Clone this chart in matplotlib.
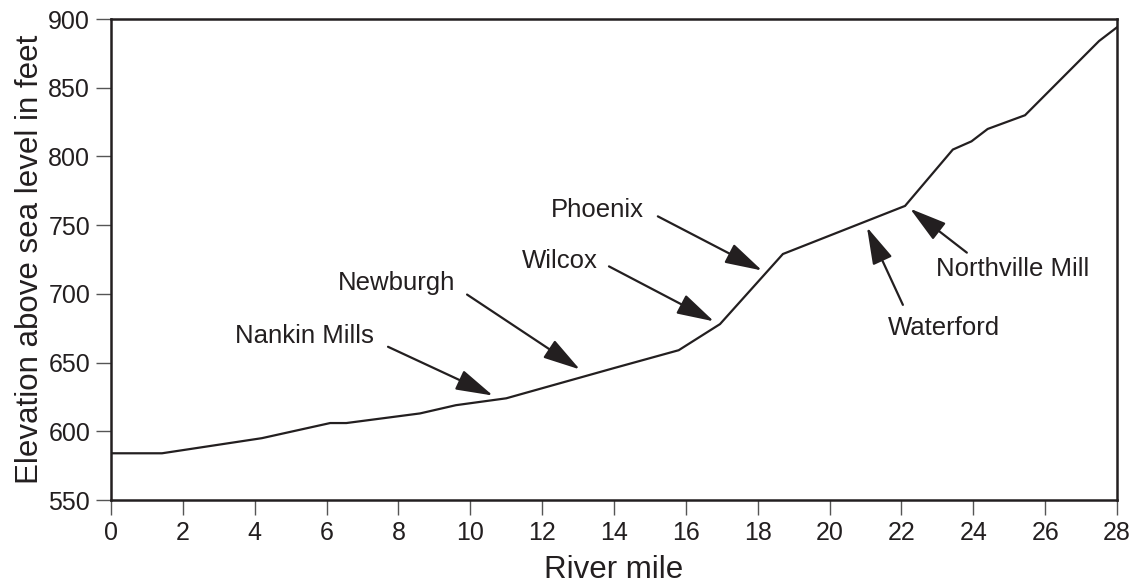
import matplotlib.pyplot as plt

plt.rcParams['font.family'] = ['Liberation Sans', 'DejaVu Sans']
ink = '#231f20'

# River profile: mile vs elevation (ft)
river_mile = [0, 1.42, 4.2, 6.1, 6.55, 8.6, 9.6, 11.0, 14.0, 15.8, 16.95,
              18.7, 22.1, 23.43, 23.95, 24.4, 25.44, 27.5, 28.0]
elevation = [584, 584, 595, 606, 606, 613, 619, 624, 646, 659, 678,
             729, 764, 805, 811, 820, 830, 884, 894]

# Dam labels: name, text position, arrow tail, arrow head
labels = ['Nankin Mills', 'Newburgh', 'Wilcox', 'Phoenix', 'Waterford', 'Northville Mill']
text_x = [5.39, 7.96, 12.5, 13.55, 23.18, 25.1]
text_y = [664, 703, 719, 756, 670, 713]
tail_x = [7.71, 9.91, 13.86, 15.22, 22.04, 23.82]
tail_y = [661.5, 699.5, 720, 756.4, 692, 730]
head_x = [10.63, 13.05, 16.78, 18.12, 21.04, 22.24]
head_y = [626, 645, 680, 717, 748.5, 762]

fig = plt.figure(figsize=(11.36, 5.87), dpi=100)
ax = fig.add_axes([0.0977, 0.1482, 0.8856, 0.8194])

ax.plot(river_mile, elevation, color=ink, lw=1.6, solid_joinstyle='miter')

for name, tx, ty, ax_, ay, hx, hy in zip(labels, text_x, text_y, tail_x, tail_y, head_x, head_y):
    ax.text(tx, ty, name, ha='center', va='baseline', fontsize=18.5, color=ink)
    ax.annotate('', xy=(hx, hy), xytext=(ax_, ay),
                arrowprops=dict(arrowstyle='-|>,head_length=2.3,head_width=0.65',
                                mutation_scale=10, color=ink, lw=1.6,
                                shrinkA=0, shrinkB=0))

ax.set_xlim(0, 28)
ax.set_ylim(550, 900)
ax.set_xticks(range(0, 29, 2))
ax.set_yticks(range(550, 901, 50))
ax.tick_params(direction='out', length=11, width=1, color='#555555',
               labelsize=18, labelcolor=ink, pad=4)
for s in ax.spines.values():
    s.set_linewidth(1.8)
    s.set_color(ink)

ax.set_xlabel('River mile', fontsize=22.5, color=ink, labelpad=7)
ax.set_ylabel('Elevation above sea level in feet', fontsize=22.5, color=ink, labelpad=2)

fig.savefig('out.png', dpi=100)
